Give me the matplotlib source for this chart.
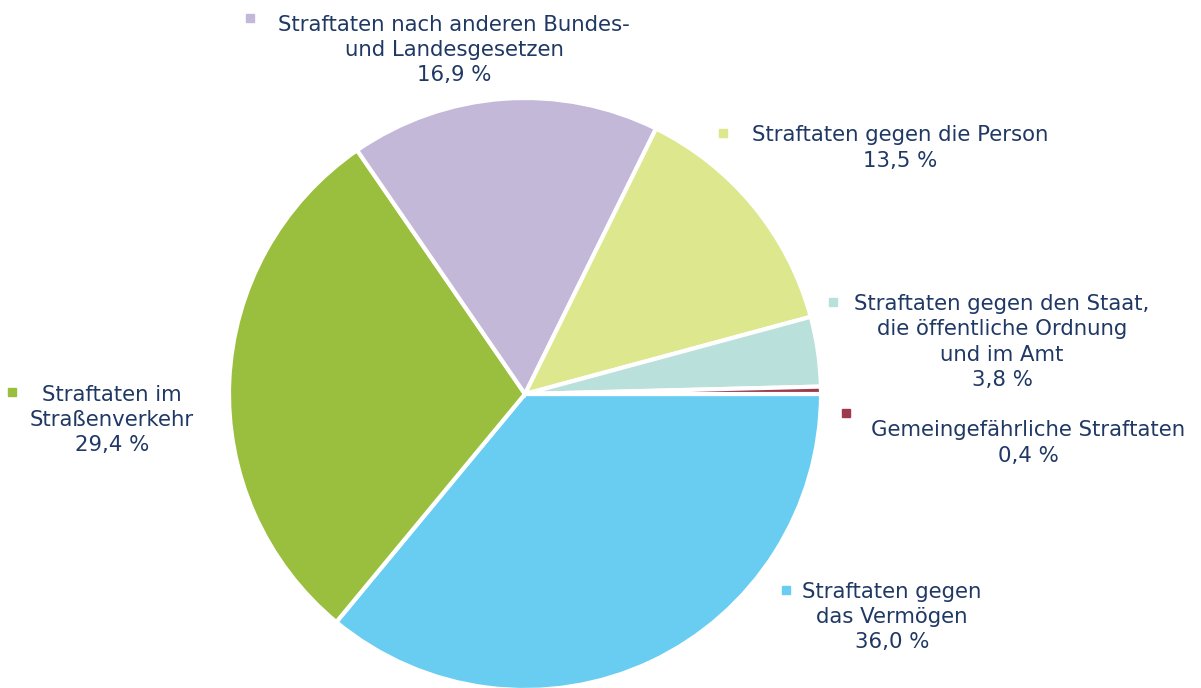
import numpy as np
import matplotlib
matplotlib.use("Agg")
from matplotlib import pyplot as plt

# slice data, clockwise starting at 3 o'clock
categories = ["Straftaten gegen\ndas Vermögen",
              "Straftaten im\nStraßenverkehr",
              "Straftaten nach anderen Bundes-\nund Landesgesetzen",
              "Straftaten gegen die Person",
              "Straftaten gegen den Staat,\ndie öffentliche Ordnung\nund im Amt",
              "Gemeingefährliche Straftaten"]
shares = [36.0, 29.4, 16.9, 13.5, 3.8, 0.4]
colors = ["#69cdf1", "#9abf3e", "#c3b8d8", "#dde78e", "#bae0dc", "#9e3a4e"]

# label text centres and marker spots (pixels, from top-left)
label_xy = [(892, 617), (112, 420), (454, 50), (900, 148), (1002, 342), (1028, 443)]
marker_xy = [(786, 590), (12, 392), (250, 18), (723, 133), (833, 302), (846, 413)]

W, H = 1201, 688
textcol = "#1f3864"

fig = plt.figure(figsize=(W / 100, H / 100), dpi=100)
ax = fig.add_axes([0, 0, 1, 1])

ax.pie(shares, colors=colors, startangle=0, counterclock=False,
       center=(525, H - 394), radius=296,
       wedgeprops=dict(edgecolor="white", linewidth=3))

for cat, val, (tx, ty), (mx, my), c in zip(categories, shares, label_xy, marker_xy, colors):
    txt = cat + "\n" + f"{val:.1f} %".replace(".", ",")
    ax.text(tx, H - ty, txt, ha="center", va="center", color=textcol,
            fontsize=15.3, family="DejaVu Sans", linespacing=1.32)
    ax.plot(mx, H - my, marker="s", markersize=5.5, color=c, linestyle="none")

ax.set_xlim(0, W)
ax.set_ylim(0, H)
ax.set_aspect("equal")
ax.axis("off")

fig.savefig("out.png", dpi=100)
